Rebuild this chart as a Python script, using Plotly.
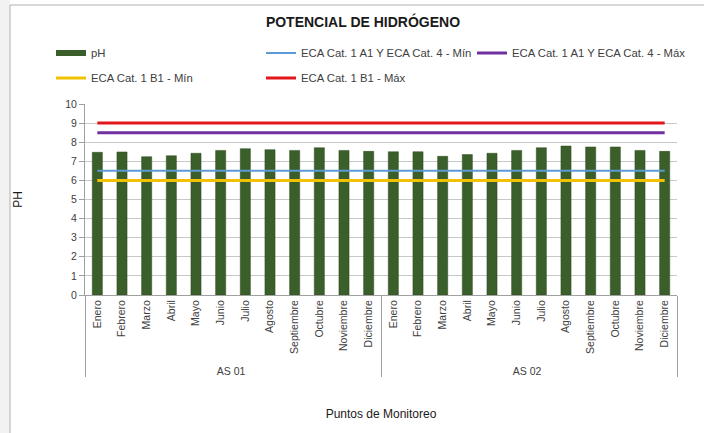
import plotly.graph_objects as go

W, H = 704, 433
ML, MR, MT, MB = 85, 27, 104, 138
PW, PH = W - ML - MR, H - MT - MB

def px_x(p):
    return (p - ML) / PW

def px_y(p):
    return (H - MB - p) / PH

months = ["Enero", "Febrero", "Marzo", "Abril", "Mayo", "Junio", "Julio",
          "Agosto", "Septiembre", "Octubre", "Noviembre", "Diciembre"]
stations = ["AS 01", "AS 02"]
ph_as01 = [7.47, 7.49, 7.24, 7.29, 7.42, 7.57, 7.66, 7.61, 7.57, 7.71, 7.57, 7.52]
ph_as02 = [7.50, 7.50, 7.26, 7.35, 7.42, 7.57, 7.71, 7.80, 7.75, 7.75, 7.57, 7.52]
eca_a1_min = 6.5
eca_a1_max = 8.5
eca_b1_min = 6.0
eca_b1_max = 9.0

x_group = [s for s in stations for _ in months]
x_month = months * len(stations)
x = [x_group, x_month]
ph = ph_as01 + ph_as02
n = len(ph)

FONT = "Liberation Sans, Arial, sans-serif"
TXT = "#404040"
GREEN = "#3b5f2a"

fig = go.Figure()
fig.add_trace(go.Bar(x=x, y=ph, name="pH", marker=dict(color=GREEN, line=dict(color="#2c4a1e", width=0.5)),
                     showlegend=False))
# legend proxy for the bar series (Excel-like wide rectangle symbol)
fig.add_trace(go.Scatter(x=[None], y=[None], mode="lines", name="pH",
                         line=dict(color=GREEN, width=6), legend="legend"))

lines = [
    ("ECA Cat. 1 A1 Y ECA Cat. 4 - Mín", eca_a1_min, "#5b9bd5", 2, "legend2"),
    ("ECA Cat. 1 A1 Y ECA Cat. 4 - Máx", eca_a1_max, "#7030a0", 3, "legend3"),
    ("ECA Cat. 1 B1 - Mín", eca_b1_min, "#f2c200", 3, "legend4"),
    ("ECA Cat. 1 B1 - Máx", eca_b1_max, "#e3161c", 3, "legend5"),
]
for name, val, col, w, lg in lines:
    fig.add_trace(go.Scatter(x=x, y=[val] * n, mode="lines", name=name,
                             line=dict(color=col, width=w), legend=lg))

def leg(px_left, py_center):
    return dict(orientation="v", font=dict(family=FONT, size=11.3, color=TXT), itemwidth=30,
                bgcolor="rgba(0,0,0,0)", xanchor="left", yanchor="middle",
                x=px_x(px_left), y=px_y(py_center), itemclick=False, itemdoubleclick=False)

fig.update_layout(
    width=W, height=H,
    margin=dict(l=ML, r=MR, t=MT, b=MB, autoexpand=False),
    paper_bgcolor="white", plot_bgcolor="white",
    font=dict(family=FONT, size=10, color=TXT),
    title=dict(text="<b>POTENCIAL DE HIDRÓGENO</b>", x=363 / W, xanchor="center",
               y=1 - 22 / H, yanchor="middle", font=dict(family=FONT, size=14, color="#1a1a1a")),
    bargap=0.59,
    legend=leg(51, 53),
    legend2=leg(261, 53),
    legend3=leg(472, 53),
    legend4=leg(51, 78),
    legend5=leg(261, 78),
    xaxis=dict(type="multicategory", tickangle=-90, showline=True, linecolor="#a0a0a0",
               tickfont=dict(family=FONT, size=10.5, color=TXT), automargin=False,
               showdividers=True, dividercolor="#a0a0a0", dividerwidth=1,
               ticks="", showgrid=False,
               title=dict(text="Puntos de Monitoreo", font=dict(family=FONT, size=12, color="#1a1a1a"),
                          standoff=33)),
    yaxis=dict(range=[0, 10], dtick=1, showline=True, linecolor="#a0a0a0", automargin=False,
               gridcolor="#c8c8c8", gridwidth=1, ticks="outside", ticklen=5,
               tickcolor="#a0a0a0", zeroline=False,
               tickfont=dict(family=FONT, size=10.5, color=TXT),
               title=dict(text="PH", font=dict(family=FONT, size=12, color="#1a1a1a"), standoff=40)),
    shapes=[
        dict(type="rect", xref="paper", yref="paper", x0=px_x(-5), x1=px_x(10), y0=px_y(440), y1=px_y(-5),
             fillcolor="#f2f2f2", line=dict(width=0), layer="below"),
        dict(type="rect", xref="paper", yref="paper", x0=px_x(10), x1=px_x(720), y0=px_y(450), y1=px_y(5),
             fillcolor="rgba(0,0,0,0)", line=dict(color="#b0b0b0", width=1), layer="below"),
    ],
)

fig.write_html("out.html", config={"displayModeBar": False},
               post_script="document.body.style.margin='0';")
